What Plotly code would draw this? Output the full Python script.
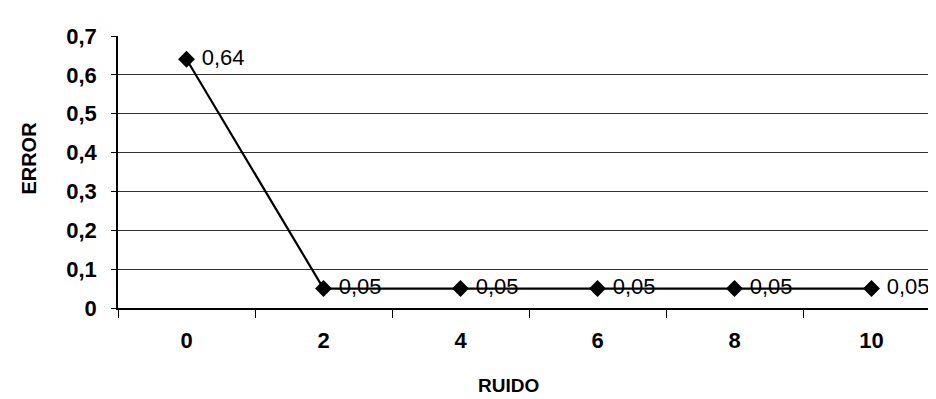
import plotly.graph_objects as go

ruido = ["0", "2", "4", "6", "8", "10"]
error = [0.64, 0.05, 0.05, 0.05, 0.05, 0.05]
y_ticks = [0, 0.1, 0.2, 0.3, 0.4, 0.5, 0.6, 0.7]
y_tick_text = ["0", "0,1", "0,2", "0,3", "0,4", "0,5", "0,6", "0,7"]

labels = [f"{v:.2f}".replace(".", ",") for v in error]

FONT = "Liberation Sans, Arial, sans-serif"

fig = go.Figure()
fig.add_trace(go.Scatter(
    x=ruido, y=error,
    mode="lines+markers+text",
    line=dict(color="black", width=2.2),
    marker=dict(symbol="diamond", size=13, color="black"),
    text=labels,
    texttemplate=" %{text}",
    textposition="middle right",
    textfont=dict(family=FONT, size=22, color="black"),
    cliponaxis=False,
    showlegend=False,
))

fig.update_xaxes(
    type="category",
    range=[-0.5, 5.5],
    showline=True, linecolor="black", linewidth=1.5,
    ticks="outside", ticklen=8, tickcolor="black",
    tickson="boundaries",
    showgrid=False,
    tickfont=dict(family=FONT, size=22, color="black", weight="bold"),
    ticklabelstandoff=12,
)
fig.update_yaxes(
    range=[0, 0.7],
    tickvals=y_ticks, ticktext=y_tick_text,
    showline=True, linecolor="black", linewidth=1.5,
    ticks="outside", ticklen=5, tickcolor="black",
    showgrid=True, gridcolor="#333333", gridwidth=1,
    zeroline=False,
    tickfont=dict(family=FONT, size=22, color="black", weight="bold"),
    ticklabelstandoff=10,
)

fig.add_annotation(
    text="ERROR", textangle=-90,
    xref="paper", yref="paper", x=-0.108, y=0.55,
    xanchor="center", yanchor="middle", showarrow=False,
    font=dict(family=FONT, size=20, color="black", weight="bold"),
)
fig.add_annotation(
    text="RUIDO",
    xref="paper", yref="paper", x=0.475, y=-0.285,
    xanchor="center", yanchor="middle", showarrow=False,
    font=dict(family=FONT, size=19, color="black", weight="bold"),
)

fig.update_layout(
    width=936, height=399,
    margin=dict(l=110, r=4, t=28, b=99),
    plot_bgcolor="white", paper_bgcolor="white",
)

fig.write_html("out.html")
